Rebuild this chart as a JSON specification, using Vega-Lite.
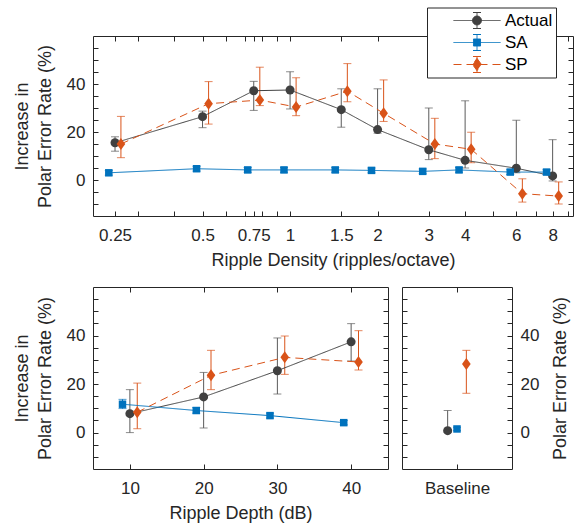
{
  "$schema": "https://vega.github.io/schema/vega-lite/v6.json",
  "padding": {"left": 13, "top": 7, "right": 0, "bottom": 5},
  "background": "white",
  "config": {
    "font": "Liberation Sans",
    "view": {"stroke": null},
    "axis": {
      "domainColor": "#262626", "domainWidth": 1,
      "tickColor": "#262626", "tickWidth": 1, "tickSize": -5,
      "labelFont": "Liberation Sans", "labelFontSize": 17, "labelColor": "#262626",
      "titleFont": "Liberation Sans", "titleFontSize": 18, "titleFontWeight": "normal", "titleColor": "#262626",
      "grid": false, "labelOverlap": false, "labelFlush": false
    },
    "axisX": {"labelPadding": 16, "titlePadding": 8},
    "axisY": {"labelPadding": 13, "titlePadding": 12, "titleLineHeight": 23}
  },
  "datasets": {
    "density": [
      {"series": "Actual", "d": 0.25, "x": 0.25, "y": 15.5, "lo": 12, "hi": 18},
      {"series": "Actual", "d": 0.5, "x": 0.5, "y": 26.4, "lo": 21.8, "hi": 28.7},
      {"series": "Actual", "d": 0.75, "x": 0.75, "y": 37.2, "lo": 29, "hi": 41.1},
      {"series": "Actual", "d": 1, "x": 1, "y": 37.5, "lo": 29.6, "hi": 45.1},
      {"series": "Actual", "d": 1.5, "x": 1.5, "y": 29.3, "lo": 22, "hi": 38},
      {"series": "Actual", "d": 2, "x": 2, "y": 21, "lo": 19.5, "hi": 38},
      {"series": "Actual", "d": 3, "x": 3, "y": 12.6, "lo": 8.5, "hi": 30},
      {"series": "Actual", "d": 4, "x": 4, "y": 8.2, "lo": 5, "hi": 33},
      {"series": "Actual", "d": 6, "x": 6, "y": 4.9, "lo": 3, "hi": 24.9},
      {"series": "Actual", "d": 8, "x": 8, "y": 1.7, "lo": -0.4, "hi": 16.8},
      {"series": "SA", "d": 0.25, "x": 0.238, "y": 3.0, "lo": 2.0, "hi": 4.0},
      {"series": "SA", "d": 0.5, "x": 0.477, "y": 4.7, "lo": 3.7, "hi": 5.7},
      {"series": "SA", "d": 0.75, "x": 0.715, "y": 4.2, "lo": 3.2, "hi": 5.2},
      {"series": "SA", "d": 1, "x": 0.953, "y": 4.2, "lo": 3.2, "hi": 5.2},
      {"series": "SA", "d": 1.5, "x": 1.43, "y": 4.2, "lo": 3.2, "hi": 5.2},
      {"series": "SA", "d": 2, "x": 1.906, "y": 4.0, "lo": 3.0, "hi": 5.0},
      {"series": "SA", "d": 3, "x": 2.859, "y": 3.6, "lo": 2.6, "hi": 4.6},
      {"series": "SA", "d": 4, "x": 3.812, "y": 4.2, "lo": 3.2, "hi": 5.2},
      {"series": "SA", "d": 6, "x": 5.718, "y": 3.3, "lo": 2.3, "hi": 4.3},
      {"series": "SA", "d": 8, "x": 7.624, "y": 3.3, "lo": 2.3, "hi": 4.3},
      {"series": "SP", "d": 0.25, "x": 0.262, "y": 15, "lo": 9.3, "hi": 26.5},
      {"series": "SP", "d": 0.5, "x": 0.5245, "y": 31.8, "lo": 23.3, "hi": 41},
      {"series": "SP", "d": 0.75, "x": 0.787, "y": 33.3, "lo": 31, "hi": 47},
      {"series": "SP", "d": 1, "x": 1.049, "y": 30.4, "lo": 26.8, "hi": 42.6},
      {"series": "SP", "d": 1.5, "x": 1.574, "y": 37, "lo": 32.6, "hi": 48.5},
      {"series": "SP", "d": 2, "x": 2.098, "y": 27.8, "lo": 24.4, "hi": 41.7},
      {"series": "SP", "d": 3, "x": 3.147, "y": 15, "lo": 8.9, "hi": 25.7},
      {"series": "SP", "d": 4, "x": 4.196, "y": 12.8, "lo": 7.2, "hi": 19.9},
      {"series": "SP", "d": 6, "x": 6.294, "y": -5.7, "lo": -9.2, "hi": 0.5},
      {"series": "SP", "d": 8, "x": 8.392, "y": -6.7, "lo": -10, "hi": -0.8}
    ],
    "depth": [
      {"series": "Actual", "d": 10, "x": 10, "y": 7.8, "lo": 0, "hi": 17.7},
      {"series": "Actual", "d": 20, "x": 20, "y": 14.7, "lo": 1.9, "hi": 24.8},
      {"series": "Actual", "d": 30, "x": 30, "y": 25.5, "lo": 15.9, "hi": 39},
      {"series": "Actual", "d": 40, "x": 40, "y": 37.4, "lo": 29.5, "hi": 44.9},
      {"series": "SA", "d": 10, "x": 9, "y": 11.7, "lo": 9.9, "hi": 13.7},
      {"series": "SA", "d": 20, "x": 19, "y": 9.1, "lo": 8.0, "hi": 10.3},
      {"series": "SA", "d": 30, "x": 29, "y": 7.0, "lo": 6.0, "hi": 8.0},
      {"series": "SA", "d": 40, "x": 39, "y": 4.1, "lo": 3.2, "hi": 5.0},
      {"series": "SP", "d": 10, "x": 11, "y": 8.4, "lo": 1.6, "hi": 20.4},
      {"series": "SP", "d": 20, "x": 21, "y": 23.6, "lo": 17.7, "hi": 33.9},
      {"series": "SP", "d": 30, "x": 31, "y": 31, "lo": 24, "hi": 39.8},
      {"series": "SP", "d": 40, "x": 41, "y": 29.1, "lo": 25.8, "hi": 42}
    ],
    "baseline": [
      {"series": "Actual", "x": -0.085, "y": 0.8, "lo": 0.2, "hi": 9.1},
      {"series": "SA", "x": 0, "y": 1.5, "lo": 0.8, "hi": 2.2},
      {"series": "SP", "x": 0.085, "y": 28.3, "lo": 16.2, "hi": 33.9}
    ]
  },
  "spacing": 17,
  "resolve": {
    "scale": {"color": "independent", "strokeDash": "independent"},
    "legend": {"color": "independent", "strokeDash": "independent"}
  },
  "vconcat": [
    {
      "width": 480, "height": 180,
      "data": {"name": "density"},
      "resolve": {"axis": {"x": "independent", "y": "independent"}},
      "layer": [
        {
          "mark": {"type": "errorbar", "ticks": {"size": 8}, "thickness": 1},
          "encoding": {
            "x": {"field": "x", "type": "quantitative", "scale": {"type": "log", "domain": [0.21, 9.4], "nice": false}, "axis": null},
            "y": {"field": "lo", "type": "quantitative", "scale": {"domain": [-15, 60], "nice": false, "zero": false}, "axis": null},
            "y2": {"field": "hi"},
            "color": {"condition": [{"test": "datum.series === 'Actual'", "value": "#5a5a5a"}, {"test": "datum.series === 'SA'", "value": "#0072BD"}], "value": "#D95319"}
          }
        },
        {
          "mark": {"type": "line", "strokeWidth": 1},
          "encoding": {
            "x": {"field": "x", "type": "quantitative", "scale": {"type": "log", "domain": [0.21, 9.4], "nice": false},
                  "axis": {"orient": "top", "labels": false, "title": null, "values": [0.25, 0.3, 0.4, 0.5, 0.6, 0.7, 0.75, 0.8, 0.9, 1, 1.5, 2, 3, 4, 5, 6, 7, 8, 9]}},
            "y": {"field": "y", "type": "quantitative", "scale": {"domain": [-15, 60], "nice": false, "zero": false},
                  "axis": {"orient": "right", "labels": false, "title": null, "values": [-10, -5, 0, 5, 10, 15, 20, 25, 30, 35, 40, 45, 50, 55]}},
            "color": {
              "field": "series", "type": "nominal",
              "scale": {"domain": ["Actual", "SA", "SP"], "range": ["#404040", "#0072BD", "#D95319"]},
              "legend": {
                "orient": "none", "legendX": 334, "legendY": -28.5, "title": null,
                "symbolSize": 2209, "clipHeight": 20, "rowPadding": 2, "symbolOffset": 23,
                "labelFont": "Liberation Sans", "labelFontSize": 17, "labelColor": "#000000", "labelOffset": 4,
                "labelExpr": "datum.label + '\u00a0\u00a0\u00a0\u00a0\u00a0\u00a0'",
                "strokeColor": "#262626", "fillColor": "white", "padding": 3, "cornerRadius": 0,
                "symbolStrokeWidth": 1,
                "encode": {"symbols": {"update": {
                  "shape": {"signal": "datum.value === 'Actual' ? 'M-1,0H1M0,-0.34V0.34M-0.17,-0.34H0.17M-0.17,0.34H0.17M0.19,0A0.19,0.19,0,1,1,-0.19,0A0.19,0.19,0,1,1,0.19,0Z' : datum.value === 'SA' ? 'M-1,0H1M0,-0.34V0.34M-0.17,-0.34H0.17M-0.17,0.34H0.17M-0.15,-0.15H0.15V0.15H-0.15Z' : 'M-1,0H1M0,-0.34V0.34M-0.17,-0.34H0.17M-0.17,0.34H0.17M0,-0.26L0.19,0L0,0.26L-0.19,0Z'"},
                  "size": {"value": 2209},
                  "strokeWidth": {"value": 1},
                  "fill": {"signal": "datum.value === 'Actual' ? '#404040' : datum.value === 'SA' ? '#0072BD' : '#D95319'"},
                  "stroke": {"signal": "datum.value === 'Actual' ? '#404040' : datum.value === 'SA' ? '#0072BD' : '#D95319'"},
                  "strokeDash": {"signal": "datum.value === 'SP' ? [7, 4] : [1, 0]"},
                  "fillOpacity": {"value": 1},
                  "opacity": {"value": 1}
                }}}
              }
            },
            "strokeDash": {"field": "series", "type": "nominal", "scale": {"domain": ["Actual", "SA", "SP"], "range": [[1, 0], [1, 0], [8, 5]]}, "legend": null},
            "order": {"field": "x", "type": "quantitative"}
          }
        },
        {
          "mark": {"type": "point", "filled": true, "opacity": 1, "strokeWidth": 0},
          "encoding": {
            "x": {"field": "x", "type": "quantitative", "scale": {"type": "log", "domain": [0.21, 9.4], "nice": false},
                  "axis": {"orient": "bottom", "title": "Ripple Density (ripples/octave)", "values": [0.25, 0.3, 0.4, 0.5, 0.6, 0.7, 0.75, 0.8, 0.9, 1, 1.5, 2, 3, 4, 5, 6, 7, 8, 9],
                           "labelExpr": "indexof([0.25, 0.5, 0.75, 1, 1.5, 2, 3, 4, 6, 8], datum.value) >= 0 ? '' + datum.value : ''"}},
            "y": {"field": "y", "type": "quantitative", "scale": {"domain": [-15, 60], "nice": false, "zero": false},
                  "axis": {"orient": "left", "title": ["Increase in", "Polar Error Rate (%)"], "values": [-10, -5, 0, 5, 10, 15, 20, 25, 30, 35, 40, 45, 50, 55],
                           "labelExpr": "datum.value === 0 || datum.value === 20 || datum.value === 40 ? datum.label : ''"}},
            "color": {"field": "series", "type": "nominal", "scale": {"domain": ["Actual", "SA", "SP"], "range": ["#404040", "#0072BD", "#D95319"]}, "legend": null},
            "shape": {"condition": [{"test": "datum.series === 'Actual'", "value": "circle"}, {"test": "datum.series === 'SA'", "value": "square"}], "value": "M0,-1L0.72,0L0,1L-0.72,0Z"},
            "size": {"condition": [{"test": "datum.series === 'Actual'", "value": 81}, {"test": "datum.series === 'SA'", "value": 56}], "value": 144}
          }
        }
      ]
    },
    {
      "spacing": 12,
      "hconcat": [
        {
          "width": 295, "height": 182,
          "data": {"name": "depth"},
          "resolve": {"axis": {"x": "independent", "y": "independent"}},
          "layer": [
            {
              "mark": {"type": "errorbar", "ticks": {"size": 8}, "thickness": 1},
              "encoding": {
                "x": {"field": "x", "type": "quantitative", "scale": {"domain": [5, 45], "nice": false, "zero": false}, "axis": null},
                "y": {"field": "lo", "type": "quantitative", "scale": {"domain": [-15, 60], "nice": false, "zero": false}, "axis": null},
                "y2": {"field": "hi"},
                "color": {"condition": [{"test": "datum.series === 'Actual'", "value": "#5a5a5a"}, {"test": "datum.series === 'SA'", "value": "#0072BD"}], "value": "#D95319"}
              }
            },
            {
              "mark": {"type": "line", "strokeWidth": 1},
              "encoding": {
                "x": {"field": "x", "type": "quantitative", "scale": {"domain": [5, 45], "nice": false, "zero": false},
                      "axis": {"orient": "top", "labels": false, "title": null, "values": [10, 20, 30, 40]}},
                "y": {"field": "y", "type": "quantitative", "scale": {"domain": [-15, 60], "nice": false, "zero": false},
                      "axis": {"orient": "right", "labels": false, "title": null, "values": [-10, -5, 0, 5, 10, 15, 20, 25, 30, 35, 40, 45, 50, 55]}},
                "color": {"field": "series", "type": "nominal", "scale": {"domain": ["Actual", "SA", "SP"], "range": ["#404040", "#0072BD", "#D95319"]}, "legend": null},
                "strokeDash": {"field": "series", "type": "nominal", "scale": {"domain": ["Actual", "SA", "SP"], "range": [[1, 0], [1, 0], [8, 5]]}, "legend": null},
                "order": {"field": "x", "type": "quantitative"}
              }
            },
            {
              "mark": {"type": "point", "filled": true, "opacity": 1, "strokeWidth": 0},
              "encoding": {
                "x": {"field": "x", "type": "quantitative", "scale": {"domain": [5, 45], "nice": false, "zero": false},
                      "axis": {"orient": "bottom", "title": "Ripple Depth (dB)", "values": [10, 20, 30, 40]}},
                "y": {"field": "y", "type": "quantitative", "scale": {"domain": [-15, 60], "nice": false, "zero": false},
                      "axis": {"orient": "left", "title": ["Increase in", "Polar Error Rate (%)"], "values": [-10, -5, 0, 5, 10, 15, 20, 25, 30, 35, 40, 45, 50, 55],
                               "labelExpr": "datum.value === 0 || datum.value === 20 || datum.value === 40 ? datum.label : ''"}},
                "color": {"field": "series", "type": "nominal", "scale": {"domain": ["Actual", "SA", "SP"], "range": ["#404040", "#0072BD", "#D95319"]}, "legend": null},
                "shape": {"condition": [{"test": "datum.series === 'Actual'", "value": "circle"}, {"test": "datum.series === 'SA'", "value": "square"}], "value": "M0,-1L0.72,0L0,1L-0.72,0Z"},
                "size": {"condition": [{"test": "datum.series === 'Actual'", "value": 81}, {"test": "datum.series === 'SA'", "value": 56}], "value": 144}
              }
            }
          ]
        },
        {
          "width": 110, "height": 182,
          "data": {"name": "baseline"},
          "resolve": {"axis": {"x": "independent", "y": "independent"}},
          "layer": [
            {
              "mark": {"type": "errorbar", "ticks": {"size": 8}, "thickness": 1},
              "encoding": {
                "x": {"field": "x", "type": "quantitative", "scale": {"domain": [-0.5, 0.5], "nice": false, "zero": false},
                      "axis": {"orient": "top", "labels": false, "title": null, "values": [0]}},
                "y": {"field": "lo", "type": "quantitative", "scale": {"domain": [-15, 60], "nice": false, "zero": false},
                      "axis": {"orient": "left", "labels": false, "title": null, "values": [-10, -5, 0, 5, 10, 15, 20, 25, 30, 35, 40, 45, 50, 55]}},
                "y2": {"field": "hi"},
                "color": {"condition": [{"test": "datum.series === 'Actual'", "value": "#5a5a5a"}, {"test": "datum.series === 'SA'", "value": "#0072BD"}], "value": "#D95319"}
              }
            },
            {
              "mark": {"type": "point", "filled": true, "opacity": 1, "strokeWidth": 0},
              "encoding": {
                "x": {"field": "x", "type": "quantitative", "scale": {"domain": [-0.5, 0.5], "nice": false, "zero": false},
                      "axis": {"orient": "bottom", "title": null, "values": [0], "labelExpr": "'Baseline'"}},
                "y": {"field": "y", "type": "quantitative", "scale": {"domain": [-15, 60], "nice": false, "zero": false},
                      "axis": {"orient": "right", "title": "Polar Error Rate (%)", "titleAngle": -90, "titleBaseline": "top", "titlePadding": 13, "values": [-10, -5, 0, 5, 10, 15, 20, 25, 30, 35, 40, 45, 50, 55],
                               "labelExpr": "datum.value === 0 || datum.value === 20 || datum.value === 40 ? datum.label : ''"}},
                "color": {"field": "series", "type": "nominal", "scale": {"domain": ["Actual", "SA", "SP"], "range": ["#404040", "#0072BD", "#D95319"]}, "legend": null},
                "shape": {"condition": [{"test": "datum.series === 'Actual'", "value": "circle"}, {"test": "datum.series === 'SA'", "value": "square"}], "value": "M0,-1L0.72,0L0,1L-0.72,0Z"},
                "size": {"condition": [{"test": "datum.series === 'Actual'", "value": 81}, {"test": "datum.series === 'SA'", "value": 56}], "value": 144}
              }
            }
          ]
        }
      ]
    }
  ]
}
